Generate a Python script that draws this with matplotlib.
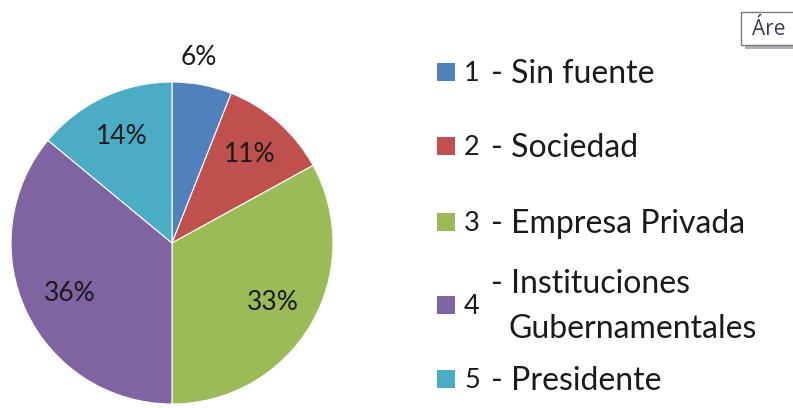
import textwrap
import numpy as np
import matplotlib
matplotlib.use("Agg")
import matplotlib.pyplot as plt
from matplotlib.patches import Rectangle

# ---- data ----
categories = ["1 - Sin fuente", "2 - Sociedad", "3 - Empresa Privada",
              "4 - Instituciones Gubernamentales", "5 - Presidente"]
values = [6, 11, 33, 36, 14]
colors = ["#4F81BD", "#C0504D", "#9BBB59", "#8064A2", "#4BACC6"]

FONT = ["Lato", "DejaVu Sans"]
plt.rcParams['font.family'] = FONT

W, H = 793, 408
fig = plt.figure(figsize=(W / 100, H / 100), dpi=100)
fig.patch.set_facecolor("white")

# ---- pie ----
cx, cy, R = 172, 243, 161
ax = fig.add_axes([(cx - R) / W, (H - cy - R) / H, 2 * R / W, 2 * R / H])
wedges, texts, autotexts = ax.pie(
    values, colors=colors, startangle=90, counterclock=False,
    autopct=lambda p: f"{p:.0f}%", pctdistance=0.73,
    wedgeprops=dict(edgecolor="white", linewidth=0.8),
    textprops=dict(fontsize=19, color="#1a1a1a"))
ax.set_xlim(-1, 1)
ax.set_ylim(-1, 1)
ax.set_aspect("equal")
ax.axis("off")

# small slice label placed outside
w0 = wedges[0]
th = np.deg2rad((w0.theta1 + w0.theta2) / 2)
autotexts[0].set_position((1.17 * np.cos(th) - 0.05, 1.17 * np.sin(th)))
autotexts[0].set_clip_on(False)
# nudge the left label slightly toward the centre like the reference
w3 = wedges[3]
th3 = np.deg2rad((w3.theta1 + w3.theta2) / 2)
autotexts[3].set_position((0.70 * np.cos(th3), 0.73 * np.sin(th3)))

# ---- overlay in pixel coordinates ----
ov = fig.add_axes([0, 0, 1, 1])
ov.set_xlim(0, W)
ov.set_ylim(H, 0)
ov.axis("off")

# legend (custom, to mimic wrapped Excel legend)
row_baselines = [[83], [157], [233], [293, 338], [390]]
num_x, dash_x, word_x = 464, 491, 508
sq = 18
tcol = "#1a1a1a"
for cat, col, bl in zip(categories, colors, row_baselines):
    num, rest = cat.split(" - ", 1)
    lines = textwrap.wrap(rest, 15)
    yc = (bl[0] + bl[-1]) / 2 - 11
    ov.add_patch(Rectangle((437, yc - sq / 2), sq, sq, facecolor=col,
                           edgecolor="none"))
    ov.text(num_x, yc + 9, num, fontsize=19.5, color=tcol, va="baseline",
            ha="left")
    for i, (ln, b) in enumerate(zip(lines, bl)):
        if i == 0:
            ov.text(dash_x, b, "- " + ln, fontsize=23, color=tcol,
                    va="baseline", ha="left")
        else:
            ov.text(word_x, b, ln, fontsize=23, color=tcol,
                    va="baseline", ha="left")

# tooltip box fragment at top right
ov.add_patch(Rectangle((745, 15), 60, 34, facecolor="#b0b0b0",
                       edgecolor="none", clip_on=True))
ov.add_patch(Rectangle((741, 12), 60, 33, facecolor="white",
                       edgecolor="#7a7a7a", linewidth=1.0))
ov.text(752, 35, "Áre", fontsize=15, color="#3a3a55",
        va="baseline", ha="left", family=["Open Sans", "DejaVu Sans"])

fig.savefig("out.png", dpi=100, facecolor="white")
